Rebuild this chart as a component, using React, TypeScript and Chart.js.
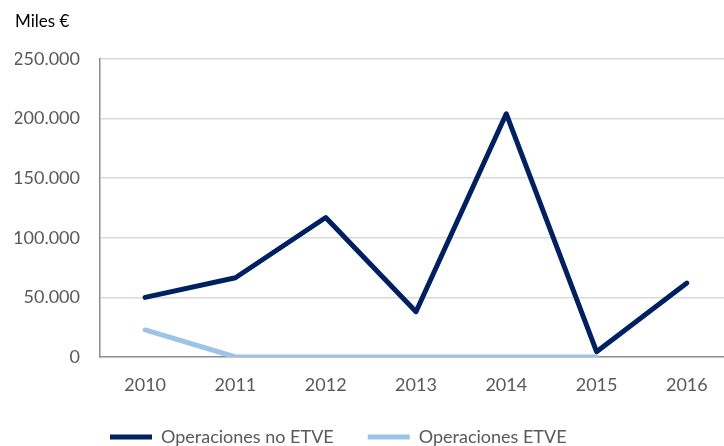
import React, { useEffect, useRef } from "react";
import { Chart, registerables } from "chart.js";

Chart.register(...registerables);

const years = ["2010", "2011", "2012", "2013", "2014", "2015", "2016"];
const operacionesNoEtve = [50000, 66500, 117000, 38000, 204000, 4500, 62000];
const operacionesEtve = [22700, 0, 0, 0, 0, 0, null];
const seriesNames = ["Operaciones no ETVE", "Operaciones ETVE"];
const yTitle = "Miles €";

const fmt = (v: number) => String(v).replace(/\B(?=(\d{3})+(?!\d))/g, ".");

const FONT = "Lato, 'DejaVu Sans', sans-serif";

export default function App() {
  const ref = useRef<HTMLCanvasElement | null>(null);

  useEffect(() => {
    if (!ref.current) return;
    Chart.defaults.font.family = FONT;
    const legendShift = {
      id: "legendShift",
      beforeDraw(chart: any) {
        if (chart.legend) {
          chart.legend.left = 76;
          chart.legend.top = 394;
        }
      },
    };
    const chart = new Chart(ref.current, {
      type: "line",
      data: {
        labels: years,
        datasets: [
          {
            label: seriesNames[0],
            data: operacionesNoEtve,
            borderColor: "#002060",
            backgroundColor: "#002060",
            borderWidth: 5,
            pointRadius: 0,
            pointHoverRadius: 0,
            borderCapStyle: "round",
            borderJoinStyle: "round",
            tension: 0,
          },
          {
            label: seriesNames[1],
            data: operacionesEtve,
            borderColor: "#9DC3E6",
            backgroundColor: "#9DC3E6",
            borderWidth: 5,
            pointRadius: 0,
            pointHoverRadius: 0,
            borderCapStyle: "round",
            borderJoinStyle: "round",
            tension: 0,
            spanGaps: false,
          },
        ],
      },
      options: {
        animation: false,
        responsive: false,
        maintainAspectRatio: false,
        layout: { padding: { left: 15, right: 8, top: 0, bottom: 0 } },
        plugins: {
          tooltip: { enabled: false },
          title: {
            display: true,
            text: yTitle,
            align: "start",
            color: "#000000",
            font: { size: 17, weight: "normal", family: FONT },
            padding: { top: 11.8, bottom: 26.8 },
          },
          legend: {
            position: "bottom",
            align: "start",
            maxHeight: 63,
            labels: {
              usePointStyle: true,
              pointStyle: "line",
              pointStyleWidth: 42,
              padding: 34,
              color: "#595959",
              font: { size: 18, family: FONT },
            },
          },
        },
        scales: {
          x: {
            type: "category",
            offset: true,
            grid: { display: false, drawTicks: false },
            border: { display: true, color: "#8c8c8c", width: 1.5 },
            ticks: {
              color: "#595959",
              font: { size: 18, family: FONT },
              padding: 17,
              maxRotation: 0,
            },
            afterFit(scale: any) {
              scale.height = 41;
            },
          },
          y: {
            min: 0,
            max: 250000,
            grid: {
              drawTicks: false,
              color: (ctx: any) => (ctx.tick && ctx.tick.value === 0 ? "rgba(0,0,0,0)" : "#d9d9d9"),
              lineWidth: 1.5,
            },
            border: { display: true, color: "#8c8c8c", width: 1.5 },
            ticks: {
              stepSize: 50000,
              color: "#595959",
              font: { size: 18, family: FONT },
              padding: 20,
              callback: (v: any) => fmt(Number(v)),
            },
            afterFit(scale: any) {
              scale.width = 85;
            },
          },
        },
      },
      plugins: [legendShift],
    });
    return () => chart.destroy();
  }, []);

  return (
    <div
      style={{
        position: "fixed",
        left: 0,
        top: 0,
        width: 724,
        height: 446,
        overflow: "hidden",
        background: "#ffffff",
      }}
    >
      <canvas ref={ref} width={740} height={460} style={{ width: 740, height: 460, display: "block" }} />
    </div>
  );
}
